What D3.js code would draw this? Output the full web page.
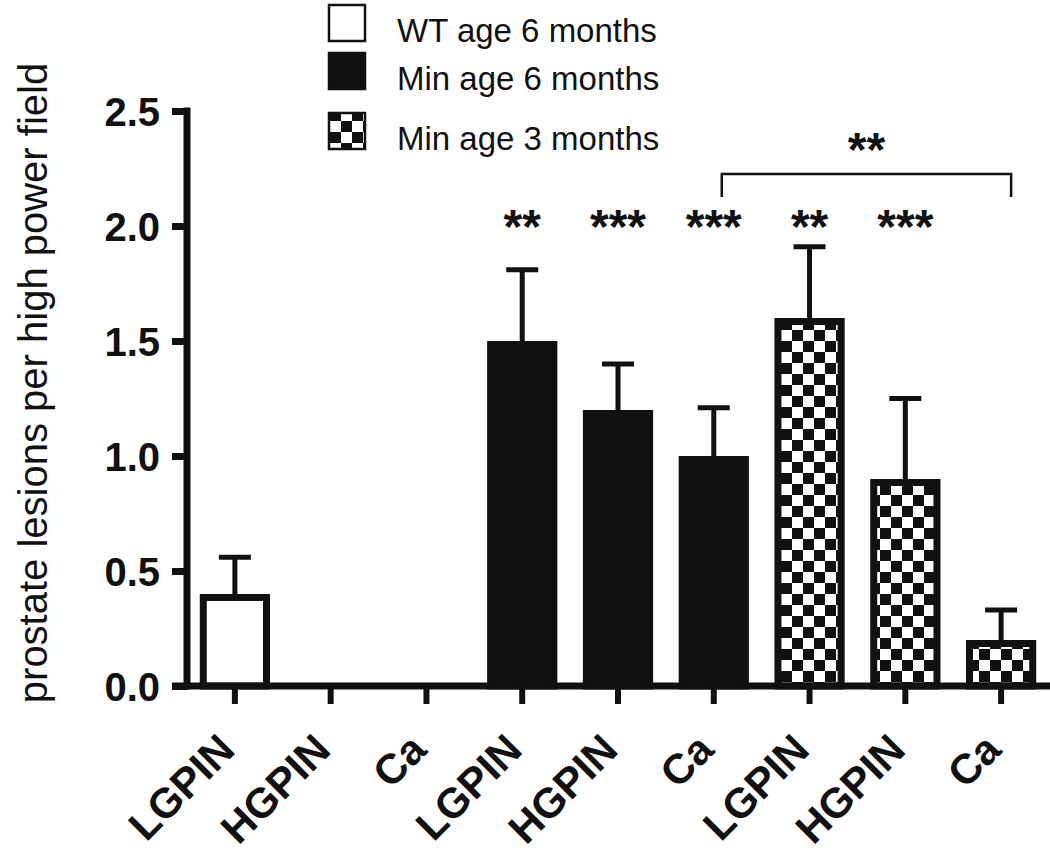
<!DOCTYPE html>
<html>
<head>
<meta charset="utf-8">
<script src="https://cdn.jsdelivr.net/npm/d3@7"></script>
<style>
  html, body { margin: 0; padding: 0; background: #fff; }
  svg { display: block; }
  text { font-family: Arial, "Liberation Sans", sans-serif; fill: #111; }
</style>
</head>
<body>
<svg id="chart" width="1050" height="858"></svg>
<script>
// ---- data ----
const categories = ["LGPIN", "HGPIN", "Ca", "LGPIN", "HGPIN", "Ca", "LGPIN", "HGPIN", "Ca"];
const groupOf    = [0, 0, 0, 1, 1, 1, 2, 2, 2];
const groupNames = ["WT age 6 months", "Min age 6 months", "Min age 3 months"];
const means      = [0.40, 0, 0, 1.50, 1.20, 1.00, 1.60, 0.90, 0.20];
const errors     = [0.16, 0, 0, 0.31, 0.20, 0.21, 0.31, 0.35, 0.13];
const stars      = ["", "", "", "**", "***", "***", "**", "***", ""];
const yTicks     = [0, 0.5, 1.0, 1.5, 2.0, 2.5];
const bracket    = { from: 5, to: 8, label: "**" };
const yTitle     = "prostate lesions per high power field";

// ---- layout ----
const svg = d3.select("#chart");
const ink = "#111";
const axisX = 187, y0px = 686, ytop = 111, xEnd = 1049;

const y = d3.scaleLinear().domain([0, 2.5]).range([y0px, ytop]);
const x = d3.scaleBand().domain(d3.range(categories.length)).range([axisX, xEnd])
  .paddingInner(0.34).paddingOuter(0.17);

// patterns
const defs = svg.append("defs");
const pat = defs.append("pattern").attr("id", "checker")
  .attr("patternUnits", "userSpaceOnUse").attr("width", 22).attr("height", 22)
  .attr("x", 0).attr("y", 0);
pat.append("rect").attr("width", 22).attr("height", 22).attr("fill", "#fff");
pat.append("rect").attr("width", 11).attr("height", 11).attr("fill", ink);
pat.append("rect").attr("x", 11).attr("y", 11).attr("width", 11).attr("height", 11).attr("fill", ink);

const fills = ["#fff", ink, "url(#checker)"];

// y axis title
svg.append("text")
  .attr("transform", `translate(47,${383}) rotate(-90)`)
  .attr("text-anchor", "middle")
  .style("font-size", "40px")
  .text(yTitle);

// y axis
const yAxis = d3.axisLeft(y).tickValues(yTicks).tickFormat(d3.format(".1f"))
  .tickSize(15).tickPadding(12);
const gy = svg.append("g").attr("transform", `translate(${axisX},0)`).call(yAxis);
gy.select(".domain").remove();
gy.selectAll(".tick line").attr("stroke", ink).attr("stroke-width", 7);
gy.selectAll(".tick text").style("font-size", "40px").style("font-weight", "bold")
  .attr("fill", ink).attr("dy", "0.36em");
svg.append("line").attr("x1", axisX).attr("x2", axisX)
  .attr("y1", y0px + 3.5).attr("y2", y(2.5) - 3.5)
  .attr("stroke", ink).attr("stroke-width", 7);

// bars
const bw = x.bandwidth();
const bars = svg.append("g");
categories.forEach((c, i) => {
  const v = means[i];
  if (v <= 0) return;
  bars.append("rect")
    .attr("x", x(i))
    .attr("y", y(v) + 3.5)
    .attr("width", bw)
    .attr("height", y0px - y(v) - 3.5)
    .attr("fill", fills[groupOf[i]])
    .attr("stroke", ink).attr("stroke-width", 7);
  // error bar
  const cx = x(i) + bw / 2;
  bars.append("line").attr("x1", cx).attr("x2", cx)
    .attr("y1", y(v)).attr("y2", y(v + errors[i]))
    .attr("stroke", ink).attr("stroke-width", 5);
  bars.append("line").attr("x1", cx - 16).attr("x2", cx + 16)
    .attr("y1", y(v + errors[i])).attr("y2", y(v + errors[i]))
    .attr("stroke", ink).attr("stroke-width", 5);
});

// x axis
svg.append("line").attr("x1", axisX - 15).attr("x2", 1050)
  .attr("y1", y0px).attr("y2", y0px).attr("stroke", ink).attr("stroke-width", 7);
const xAxis = d3.axisBottom(x).tickSize(18).tickFormat(i => categories[i]);
const gx = svg.append("g").attr("transform", `translate(0,${y0px})`).call(xAxis);
gx.select(".domain").remove();
gx.selectAll(".tick line").attr("stroke", ink).attr("stroke-width", 6);
gx.selectAll(".tick text")
  .style("font-size", "42px").style("font-weight", "bold").attr("fill", ink)
  .attr("text-anchor", "end")
  .attr("dy", 0).attr("y", 0)
  .attr("transform", "translate(2,66) rotate(-45)");

// significance stars
categories.forEach((c, i) => {
  if (!stars[i]) return;
  svg.append("text")
    .attr("x", x(i) + bw / 2).attr("y", 243)
    .attr("text-anchor", "middle")
    .style("font-size", "48px").style("font-weight", "bold")
    .text(stars[i]);
});

// bracket
const bx1 = x(bracket.from) + bw / 2 + 8, bx2 = x(bracket.to) + bw / 2 + 10;
svg.append("path")
  .attr("d", `M${bx1},197 V174 H${bx2} V197`)
  .attr("fill", "none").attr("stroke", ink).attr("stroke-width", 2.5);
svg.append("text").attr("x", (bx1 + bx2) / 2).attr("y", 166)
  .attr("text-anchor", "middle")
  .style("font-size", "48px").style("font-weight", "bold")
  .text(bracket.label);

// legend
const legendBase = [42, 90, 150];
groupNames.forEach((g, k) => {
  svg.append("rect")
    .attr("x", 329).attr("y", legendBase[k] - 37)
    .attr("width", 36).attr("height", 36)
    .attr("fill", fills[k]).attr("stroke", ink).attr("stroke-width", 2.5);
  svg.append("text")
    .attr("x", 397).attr("y", legendBase[k])
    .style("font-size", "33px")
    .text(g);
});
</script>
</body>
</html>
